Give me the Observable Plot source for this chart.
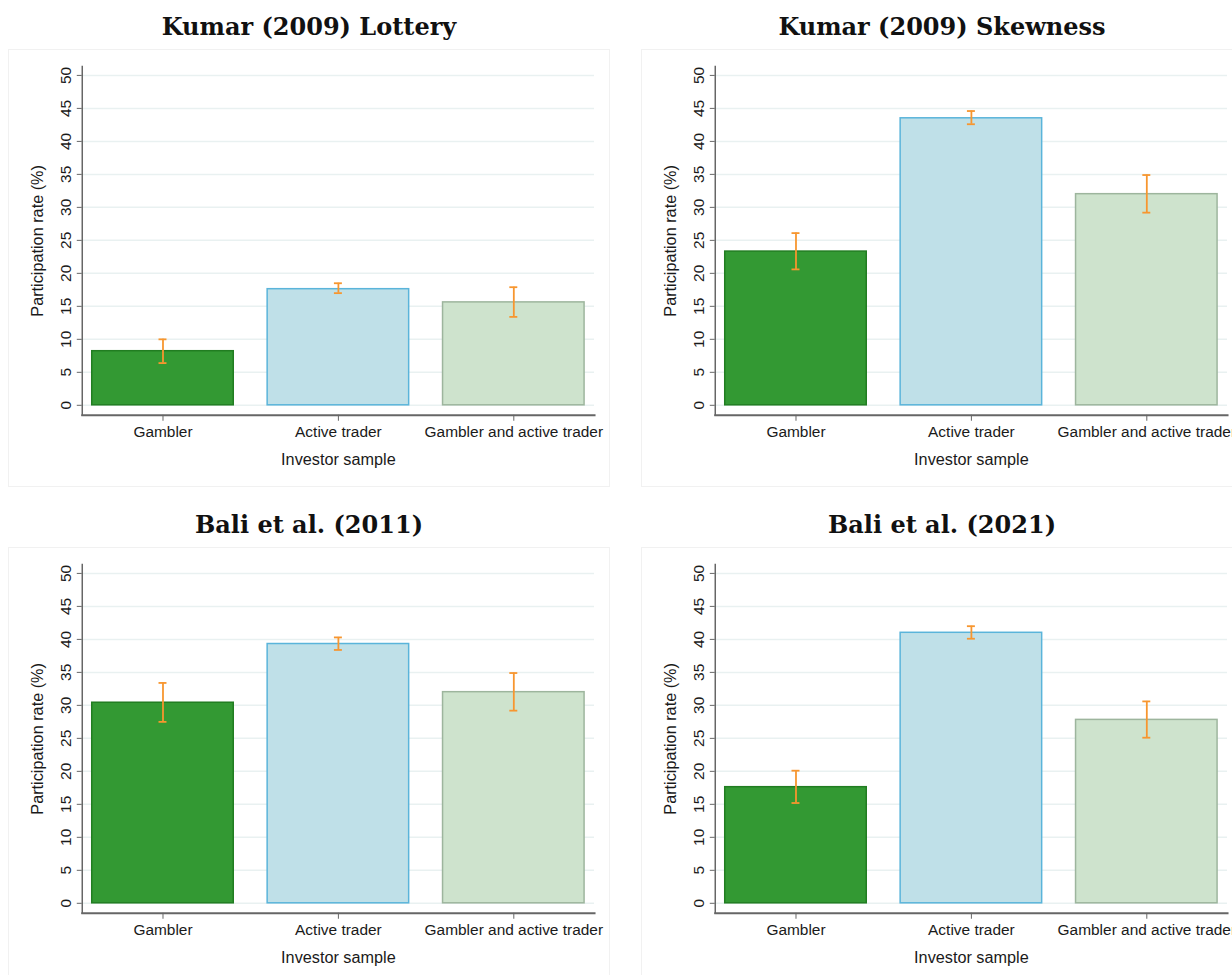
<!DOCTYPE html>
<html>
<head>
<meta charset="utf-8">
<script src="https://cdn.jsdelivr.net/npm/d3@7"></script>
<script src="https://cdn.jsdelivr.net/npm/@observablehq/plot@0.6"></script>
<style>
  html, body { margin: 0; padding: 0; background: #fff; overflow: hidden; }
  #page { position: relative; width: 1232px; height: 975px; overflow: hidden; }
  .title {
    position: absolute; width: 602px; text-align: center;
    font-family: "DejaVu Serif", serif; font-weight: bold; font-size: 24px;
    color: #111; line-height: 30px;
  }
  .panel { position: absolute; border: 1px solid #f1f1f1; box-sizing: border-box; }
  .panel svg { display: block; }
</style>
</head>
<body>
<div id="page"></div>
<script>
// Investor samples on the x axis
const categories = ["Gambler", "Active trader", "Gambler and active trader"];

// One panel per measure
const panelTitles = ["Kumar (2009) Lottery", "Kumar (2009) Skewness", "Bali et al. (2011)", "Bali et al. (2021)"];

// Participation rate (%) per panel, in category order
const rates  = [[8.2, 17.6, 15.6], [23.3, 43.5, 32.0], [30.4, 39.3, 32.0], [17.6, 41.0, 27.8]];
// Confidence interval bounds (%)
const ciLow  = [[6.4, 17.0, 13.4], [20.6, 42.6, 29.2], [27.5, 38.4, 29.2], [15.2, 40.1, 25.1]];
const ciHigh = [[10.0, 18.5, 17.9], [26.1, 44.6, 34.9], [33.4, 40.3, 34.9], [20.1, 42.0, 30.6]];

const yTicks = [0, 5, 10, 15, 20, 25, 30, 35, 40, 45, 50];
const yLabel = "Participation rate (%)";
const xLabel = "Investor sample";

const fills   = ["#339933", "#bfe0e8", "#cee3cd"];
const strokes = ["#217d21", "#5ab4da", "#9db59d"];
const errColor = "#f7962f";

// Panel placement on the page: [left, top]
const panelPos = [[8, 49], [641, 49], [8, 547], [641, 547]];
const W = 602, H = 438;

const page = document.getElementById("page");

panelPos.forEach(([left, top], p) => {
  const data = categories.map((c, i) => ({
    cat: c, value: rates[p][i], lo: ciLow[p][i], hi: ciHigh[p][i], k: i
  }));

  const title = document.createElement("div");
  title.className = "title";
  title.style.left = left + "px";
  title.style.top = (top - 37) + "px";
  title.textContent = panelTitles[p];
  page.appendChild(title);

  const chart = Plot.plot({
    width: W,
    height: H,
    marginLeft: 73,
    marginRight: 15,
    marginTop: 16,
    marginBottom: 72,
    style: { fontFamily: "'Liberation Sans', Arial, sans-serif", fontSize: "15.5px", color: "#1a1a1a", background: "transparent" },
    x: { domain: categories, paddingInner: 0.195, paddingOuter: 0.05, label: null },
    y: { domain: [0, 50], insetTop: 9, insetBottom: 10, label: null },
    marks: [
      Plot.gridY(yTicks, { stroke: "#e9f1f1", strokeOpacity: 1, strokeWidth: 1.5 }),
      Plot.barY(data, {
        x: "cat", y: "value",
        fill: d => fills[d.k], stroke: d => strokes[d.k], strokeWidth: 1.5
      }),
      Plot.ruleX(data, { x: "cat", y1: "lo", y2: "hi", stroke: errColor, strokeWidth: 1.8 }),
      Plot.tickY(data, { x: "cat", y: "hi", stroke: errColor, strokeWidth: 1.8, insetLeft: 67, insetRight: 67 }),
      Plot.tickY(data, { x: "cat", y: "lo", stroke: errColor, strokeWidth: 1.8, insetLeft: 67, insetRight: 67 }),
      Plot.axisY({ ticks: yTicks, tickRotate: -90, tickSize: 5, tickPadding: 6, stroke: "#666", label: null }),
      Plot.axisX({ tickSize: 6, tickPadding: 5, stroke: "#666", label: null }),
      Plot.frame({ anchor: "left", stroke: "#666", strokeWidth: 1.5 }),
      Plot.frame({ anchor: "bottom", stroke: "#666", strokeWidth: 2 }),
      Plot.text([xLabel], { frameAnchor: "bottom", dy: 45, lineAnchor: "middle", textAnchor: "middle", fontSize: 16.3, fill: "#1a1a1a" }),
      Plot.text([yLabel], { frameAnchor: "left", dx: -45, rotate: -90, textAnchor: "middle", lineAnchor: "middle", fontSize: 16.3, fill: "#1a1a1a" })
    ]
  });

  const holder = document.createElement("div");
  holder.className = "panel";
  holder.style.left = left + "px";
  holder.style.top = top + "px";
  holder.style.width = W + "px";
  holder.style.height = H + "px";
  holder.appendChild(chart);
  page.appendChild(holder);
});
</script>
</body>
</html>
